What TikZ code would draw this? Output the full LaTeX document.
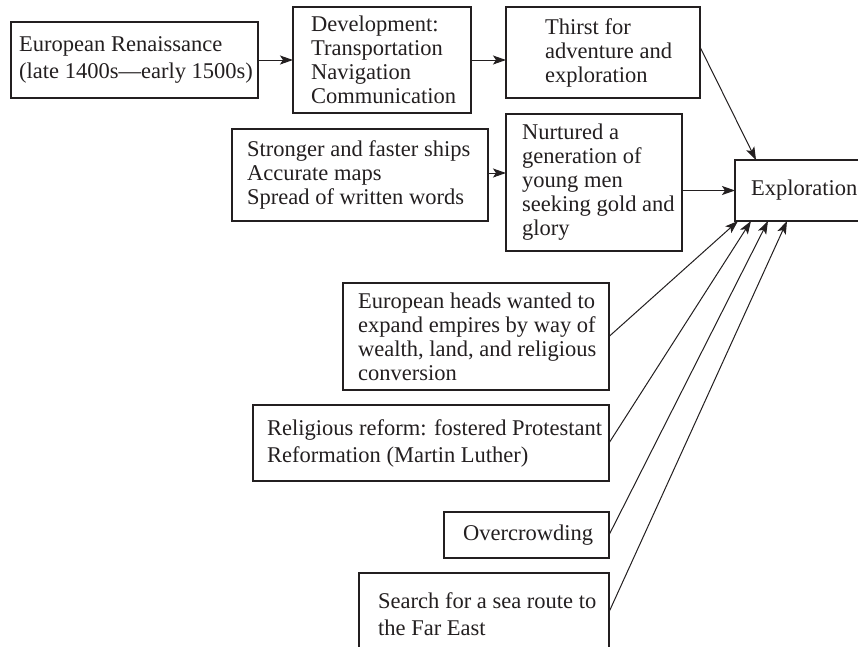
\documentclass[tikz,border=0pt]{standalone}
\usepackage{fontspec}
\setmainfont{Liberation Serif}
\usetikzlibrary{arrows.meta,calc}
\definecolor{ink}{RGB}{35,31,32}
\tikzset{
  box/.style={draw=ink, line width=1.1pt, inner sep=0pt, outer sep=0pt},
  txt/.style={align=left, inner sep=0pt, anchor=west, text=ink,
              font=\fontsize{22.5}{24}\selectfont},
  loose/.style={font=\fontsize{22.5}{27}\selectfont},
  arr/.style={draw=ink, line width=1pt, -{Stealth[length=13pt,width=9pt,inset=3pt]}}
}
\begin{document}
\begin{tikzpicture}[x=1pt,y=-1pt]
\useasboundingbox (0,0) rectangle (858,646);
\clip (0,0) rectangle (858,646);
\fill[white] (0,0) rectangle (858,646);

% boxes
\node[box, minimum width=247pt, minimum height=76pt]  (b1)  at (134.5,60)  {};
\node[box, minimum width=178pt, minimum height=106pt] (b2)  at (382,60)    {};
\node[box, minimum width=194pt, minimum height=91pt]  (b3)  at (603,52.5)  {};
\node[box, minimum width=256pt, minimum height=92pt]  (b4)  at (360,175)   {};
\node[box, minimum width=176pt, minimum height=137pt] (b5)  at (594,182.5) {};
\node[box, minimum width=140pt, minimum height=61pt]  (b6)  at (805,190.5) {};
\node[box, minimum width=266pt, minimum height=107pt] (b7)  at (476,336.5) {};
\node[box, minimum width=356pt, minimum height=76pt]  (b8)  at (431,443)   {};
\node[box, minimum width=165pt, minimum height=46pt]  (b9)  at (526.5,535) {};
\node[box, minimum width=250pt, minimum height=82pt]  (b10) at (484,614)   {};

% texts
\node[txt, loose] (t1) at ([xshift=8pt]b1.west) {European Renaissance\\(late 1400s---early 1500s)};
\node[txt] (t2) at ([xshift=18pt]b2.west) {Development:\\Transportation\\Navigation\\Communication};
\node[txt] (t3) at ([xshift=39pt]b3.west) {Thirst for\\adventure and\\exploration};
\node[txt] (t4) at ([xshift=15pt]b4.west) {Stronger and faster ships\\Accurate maps\\Spread of written words};
\node[txt] (t5) at ([xshift=16pt]b5.west) {Nurtured a\\generation of\\young men\\seeking gold and\\glory};
\node[txt] (t6) at ([xshift=16pt]b6.west) {Exploration};
\node[txt] (t7) at ([xshift=15pt]b7.west) {European heads wanted to\\expand empires by way of\\wealth, land, and religious\\conversion};
\node[txt, loose] (t8) at ([xshift=14pt]b8.west) {Religious reform: fostered Protestant\\Reformation (Martin Luther)};
\node[txt] (t9) at ([xshift=19pt]b9.west) {Overcrowding};
\node[txt, loose] (t10) at ([xshift=19pt]b10.west) {Search for a sea route to\\the Far East};

% connectors
\draw[arr] (b1) -- (b2);
\draw[arr] (b2.east) -- (b2.east -| b3.west);
\draw[arr] ([yshift=2pt]b4.east) -- ([yshift=2pt]b4.east -| b5.west);
\draw[arr] (b6.west -| b5.east) -- (b6.west);
\draw[arr] ([yshift=-40pt]b3.north east) -- ([xshift=21pt]b6.north west);
\draw[arr] (b7.east) -- ([xshift=3pt]b6.south west);
\draw[arr] (b8.east) -- ([xshift=16pt]b6.south west);
\draw[arr] (b9.east) -- ([xshift=33pt]b6.south west);
\draw[arr] ([yshift=2pt]b10.east) -- ([xshift=52pt]b6.south west);
\end{tikzpicture}
\end{document}
